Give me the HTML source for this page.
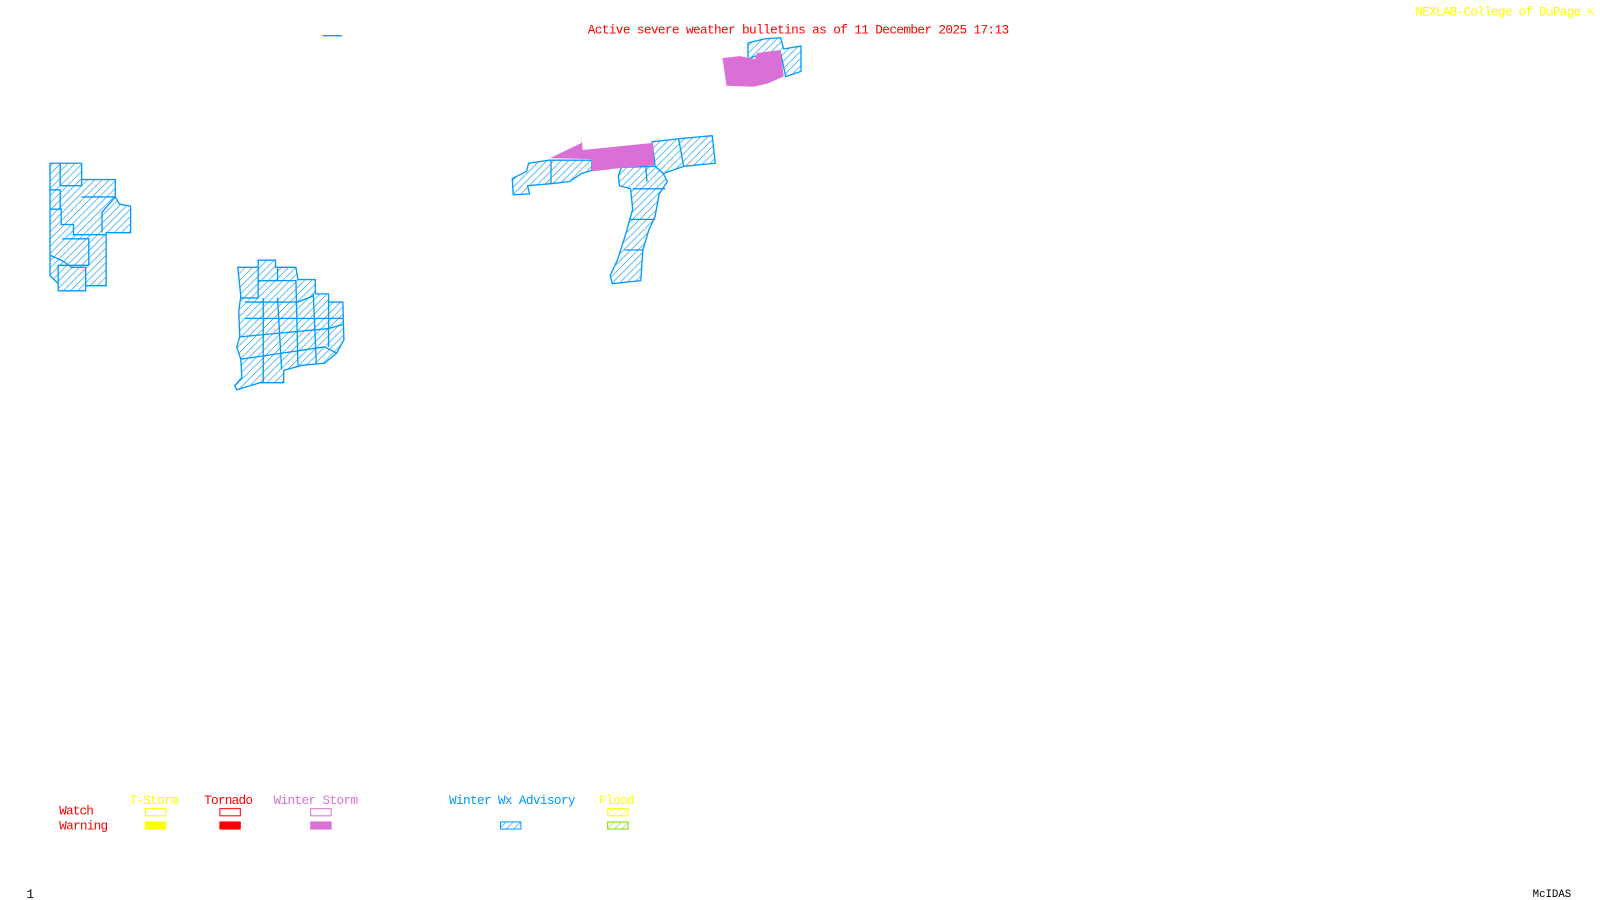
<!DOCTYPE html>
<html><head><meta charset="utf-8"><style>
html,body{margin:0;padding:0;background:#fff;width:1600px;height:900px;overflow:hidden}
svg{display:block}
text{font-family:"Liberation Mono","DejaVu Sans Mono",monospace;font-size:12.5px}
</style></head><body>
<svg width="1600" height="900" viewBox="0 0 1568 882" xmlns="http://www.w3.org/2000/svg">
<defs>
<pattern id="hb" width="5" height="5" patternUnits="userSpaceOnUse" patternTransform="rotate(45)">
<rect width="5" height="5" fill="#fff"/><line x1="0" y1="0" x2="0" y2="5" stroke="#0099ff" stroke-width="1.2"/></pattern>
<pattern id="hy" width="5" height="5" patternUnits="userSpaceOnUse" patternTransform="rotate(45)">
<rect width="5" height="5" fill="#fff"/><line x1="0" y1="0" x2="0" y2="5" stroke="#ffff00" stroke-width="1.2"/></pattern>
<pattern id="hg" width="5" height="5" patternUnits="userSpaceOnUse" patternTransform="rotate(45)">
<rect width="5" height="5" fill="#fff"/><line x1="0" y1="0" x2="0" y2="5" stroke="#80dd00" stroke-width="1.2"/></pattern>
</defs>
<rect width="1568" height="882" fill="#fff"/>
<text x="576" y="33" fill="#ff0000" textLength="413">Active severe weather bulletins as of 11 December 2025 17:13</text>
<text x="1387" y="15" fill="#ffff00" textLength="176">NEXLAB-College of DuPage ⇱</text>
<line x1="316" y1="35" x2="335" y2="35" stroke="#0099ff" stroke-width="1.3"/>
<g stroke="#0099ff" stroke-width="1.3" fill="url(#hb)" stroke-linejoin="round">
<polygon points="49,160 80,160 80,176 113,176 113,193 117,200 128,202 128,228 104,228 104,280 84,280 84,285 57,285 57,278 49,270"/>
<polyline fill="none" points="59,160 59,182 80,182 80,176"/>
<polyline fill="none" points="49,205 60,205 60,220 72,220 72,230 104,230"/>
<polyline fill="none" points="80,193 113,193 100,208 100,228"/>
<polyline fill="none" points="61,234 87,234 87,260 57,260 57,278"/>
<polyline fill="none" points="49,250 62,256 70,262 84,262 84,280"/>
<polyline fill="none" points="49,186 59,186 59,205"/>
<polygon points="233,262 253,262 253,255 270,255 270,262 290,262 292,274 309,274 309,288 322,288 322,296 336,296 337,333 330,346 318,356 296,358 278,363 278,375 255,375 232,382 230,378 237,370 236,352 232,340 235,330 234,305 236,290"/>
<polyline fill="none" points="236,292 253,292 253,275 290,275"/>
<polyline fill="none" points="253,262 253,275 272,275 272,262"/>
<polyline fill="none" points="240,312 336,312"/>
<polyline fill="none" points="236,330 322,322 336,318"/>
<polyline fill="none" points="236,352 318,340 330,346"/>
<polyline fill="none" points="258,292 258,375"/>
<polyline fill="none" points="272,292 276,362"/>
<polyline fill="none" points="290,275 292,358"/>
<polyline fill="none" points="307,288 310,356"/>
<polyline fill="none" points="322,296 322,340"/>
<polyline fill="none" points="240,296 292,296 307,290"/>
<polygon points="502,175 516,168 518,160 538,157 580,157 580,167 570,170 558,178 540,180 517,182 519,190 503,191"/>
<polyline fill="none" points="540,157 540,180"/>
<polygon points="639,139 665,136 698,133 701,160 670,163 650,170 642,163"/>
<polyline fill="none" points="665,136 670,163"/>
<polygon points="609,164 642,163 650,170 654,178 646,190 642,212 636,225 630,245 628,275 600,278 598,270 605,255 613,230 620,205 618,185 607,182 606,172"/>
<polyline fill="none" points="620,185 652,185"/>
<polyline fill="none" points="618,215 642,215"/>
<polyline fill="none" points="612,245 630,245"/>
<polyline fill="none" points="633,164 634,178"/>
<polygon points="733,42 750,38 765,37 768,48 785,45 785,70 770,75 765,52 740,55 733,58"/>
</g>
<g fill="#da70d6">
<polygon points="539,155 570,140 570,134 571,147 640,140 641,162 605,165 580,168 580,156"/>
<polygon points="708,57 725,55 740,58 742,52 765,49 768,75 752,82 738,85 712,84"/>
</g>
<text x="127" y="788" fill="#ffff00" textLength="48">T-Storm</text>
<text x="200" y="788" fill="#ff0000" textLength="48">Tornado</text>
<text x="268" y="788" fill="#da70d6" textLength="83">Winter Storm</text>
<text x="440" y="788" fill="#0099ff" textLength="124">Winter Wx Advisory</text>
<text x="587" y="788" fill="#ffff00" textLength="35">Flood</text>
<text x="58" y="798" fill="#ff0000" textLength="34">Watch</text>
<text x="58" y="813" fill="#ff0000" textLength="48">Warning</text>
<rect x="142.5" y="792.5" width="20" height="7" fill="none" stroke="#ffff00"/>
<rect x="142" y="805" width="21" height="8" fill="#ffff00"/>
<rect x="215.5" y="792.5" width="20" height="7" fill="none" stroke="#ff0000"/>
<rect x="215" y="805" width="21" height="8" fill="#ff0000"/>
<rect x="304.5" y="792.5" width="20" height="7" fill="none" stroke="#da70d6"/>
<rect x="304" y="805" width="21" height="8" fill="#da70d6"/>
<rect x="490.5" y="805.5" width="20" height="7" fill="url(#hb)" stroke="#0099ff"/>
<rect x="595.5" y="792.5" width="20" height="7" fill="url(#hy)" stroke="#ffff00"/>
<rect x="595.5" y="805.5" width="20" height="7" fill="url(#hg)" stroke="#80dd00"/>
<text x="26" y="880" fill="#000" font-size="10">1</text>
<text x="1502" y="879" fill="#000" style="font-size:10.5px">McIDAS</text>
</svg>
</body></html>
